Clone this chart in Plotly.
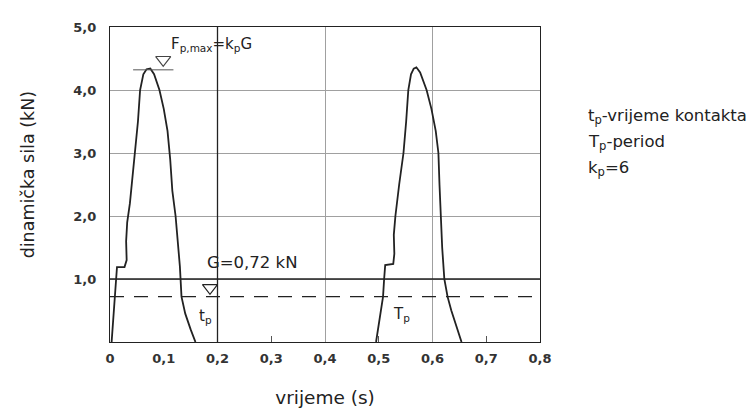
import plotly.graph_objects as go

# pulse 1 (first foot contact)
t_pulse1 = [0.003, 0.007, 0.011, 0.013, 0.027, 0.031, 0.030, 0.032, 0.037, 0.042, 0.047,
            0.052, 0.056, 0.062, 0.068, 0.075, 0.082, 0.092, 0.100, 0.107, 0.112, 0.116,
            0.122, 0.126, 0.130, 0.133, 0.140, 0.150, 0.159]
f_pulse1 = [0.0, 0.5, 0.9, 1.19, 1.19, 1.3, 1.6, 1.9, 2.2, 2.6, 3.0,
            3.5, 4.0, 4.25, 4.33, 4.34, 4.25, 4.0, 3.7, 3.35, 2.9, 2.4,
            2.0, 1.6, 1.2, 0.72, 0.45, 0.2, 0.0]

# pulse 2 (next contact, one period later)
t_pulse2 = [0.495, 0.502, 0.508, 0.510, 0.512, 0.527, 0.529, 0.528, 0.531, 0.538, 0.546,
            0.551, 0.555, 0.560, 0.565, 0.570, 0.577, 0.589, 0.598, 0.606, 0.611, 0.613,
            0.615, 0.618, 0.622, 0.628, 0.635, 0.645, 0.654]
f_pulse2 = [0.0, 0.4, 0.72, 1.0, 1.22, 1.24, 1.4, 1.7, 2.0, 2.5, 3.0,
            3.5, 4.0, 4.25, 4.34, 4.36, 4.28, 4.0, 3.7, 3.35, 3.0, 2.5,
            2.0, 1.5, 1.0, 0.72, 0.5, 0.25, 0.0]

x_ticks = [0, 0.1, 0.2, 0.3, 0.4, 0.5, 0.6, 0.7, 0.8]
x_labels = ["0", "0,1", "0,2", "0,3", "0,4", "0,5", "0,6", "0,7", "0,8"]
y_ticks = [1, 2, 3, 4, 5]
y_labels = ["1,0", "2,0", "3,0", "4,0", "5,0"]
x_grid = [0.2, 0.4, 0.6]
x_small_ticks = [0.3, 0.5, 0.7]

G = 0.72          # static weight, kN
F_max = 4.32      # k_p * G
t_contact = 0.186
peak_bar = [0.043, 0.118]
peak_marker_t = 0.099

FONT = "DejaVu Sans"
INK = "#222"
GRID = "#a0a0a0"

fig = go.Figure()
fig.add_trace(go.Scatter(x=t_pulse1, y=f_pulse1, mode="lines",
                         line=dict(color=INK, width=1.8), showlegend=False))
fig.add_trace(go.Scatter(x=t_pulse2, y=f_pulse2, mode="lines",
                         line=dict(color=INK, width=1.8), showlegend=False))

# peak marker: short bar + open triangle
fig.add_trace(go.Scatter(x=peak_bar, y=[F_max, F_max], mode="lines",
                         line=dict(color="#555", width=1), showlegend=False))
fig.add_trace(go.Scatter(x=[peak_marker_t], y=[F_max + 0.16], mode="markers",
                         marker=dict(symbol="triangle-down-open", size=13,
                                     color="#444", line=dict(width=1.2)),
                         showlegend=False))
# G level marker
fig.add_trace(go.Scatter(x=[t_contact], y=[G + 0.14], mode="markers",
                         marker=dict(symbol="triangle-down-open", size=13,
                                     color=INK, line=dict(width=1.2)),
                         showlegend=False))
# invisible trace to carry the small tick axis
fig.add_trace(go.Scatter(x=[0, 0.8], y=[0, 0], mode="lines", xaxis="x2",
                         line=dict(width=0), hoverinfo="skip", showlegend=False))

fig.add_hline(y=G, line=dict(color=INK, width=1.3, dash="14px,10px"))
fig.add_hline(y=1.0, line=dict(color=INK, width=1.3))
fig.add_vline(x=0.2, line=dict(color=INK, width=1.3))

fig.add_annotation(x=0.188, y=4.72, text="F<sub>p,max</sub>=k<sub>p</sub>G",
                   showarrow=False, font=dict(size=15, color=INK))
fig.add_annotation(x=0.266, y=1.26, text="G=0,72 kN",
                   showarrow=False, font=dict(size=16.5, color=INK))
fig.add_annotation(x=0.178, y=0.41, text="t<sub>p</sub>",
                   showarrow=False, font=dict(size=15, color=INK))
fig.add_annotation(x=0.543, y=0.44, text="T<sub>p</sub>",
                   showarrow=False, font=dict(size=15, color=INK))

legend_lines = ["t<sub>p</sub>-vrijeme kontakta", "T<sub>p</sub>-period", "k<sub>p</sub>=6"]
for i, txt in enumerate(legend_lines):
    fig.add_annotation(xref="paper", yref="paper", x=1.107, y=0.715 - i * 0.082,
                       xanchor="left", yanchor="middle", text=txt, showarrow=False,
                       font=dict(size=16.5, color=INK))

fig.add_annotation(xref="paper", yref="paper", x=-0.19, y=0.53, textangle=-90,
                   xanchor="center", yanchor="middle",
                   text="dinamička sila (kN)", showarrow=False,
                   font=dict(size=17.5, color=INK))

fig.update_layout(
    width=756, height=410,
    margin=dict(l=102, r=224, t=16, b=76),
    paper_bgcolor="white", plot_bgcolor="white",
    font=dict(family=FONT, color=INK),
    xaxis=dict(range=[0, 0.8], tickvals=x_ticks, ticktext=x_labels, ticks="",
               showgrid=False, zeroline=False, showline=True, mirror=True,
               linecolor=INK, linewidth=1.3,
               tickfont=dict(size=13, weight="bold", color="#333"),
               ticklabelstandoff=4,
               minor=dict(tickvals=x_grid, showgrid=True, gridcolor=GRID,
                          gridwidth=1, ticks=""),
               title=dict(text="vrijeme (s)", font=dict(size=18.5), standoff=26)),
    xaxis2=dict(range=[0, 0.8], overlaying="x", side="bottom", tickvals=x_small_ticks,
                ticks="inside", ticklen=6, tickcolor="#555", showticklabels=False,
                showgrid=False, zeroline=False, showline=False),
    yaxis=dict(range=[0, 5], tickvals=y_ticks, ticktext=y_labels, ticks="",
               showgrid=True, gridcolor=GRID, gridwidth=1, zeroline=False,
               showline=True, mirror=True, linecolor=INK, linewidth=1.3,
               tickfont=dict(size=13, weight="bold", color="#333"),
               ticklabelstandoff=10),
)

fig.write_html("out.html")
